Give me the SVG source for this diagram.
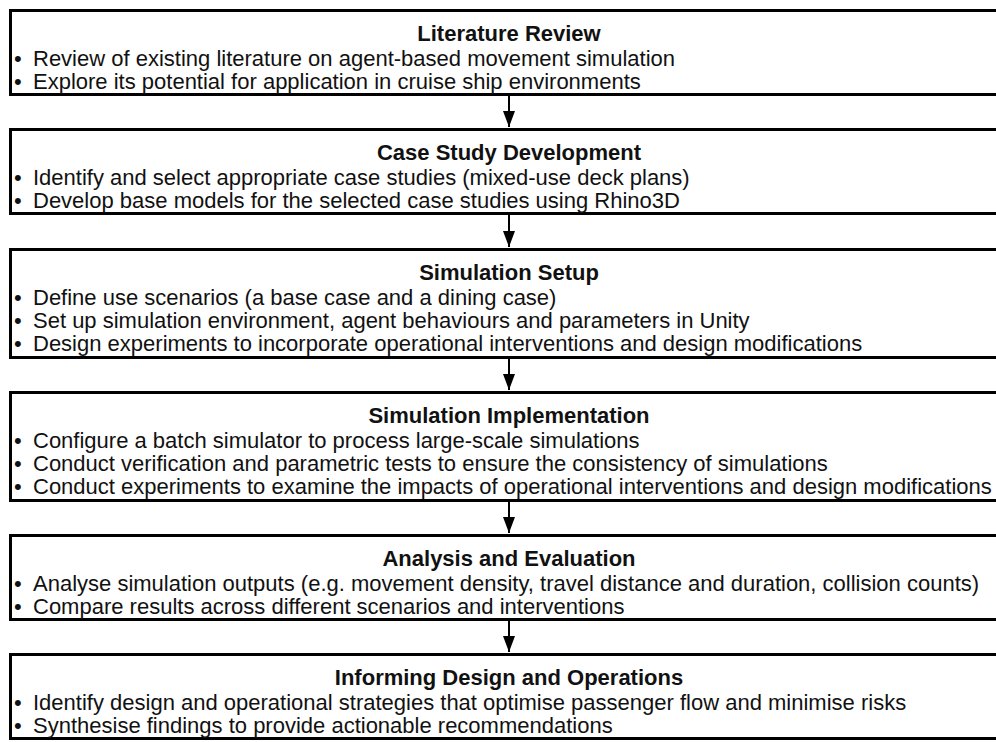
<svg xmlns="http://www.w3.org/2000/svg" width="996" height="742" viewBox="0 0 996 742">
  <style>
    .box { fill: #ffffff; stroke: #000000; stroke-width: 3; }
    .title { font-family: "Liberation Sans", Arial, Helvetica, sans-serif; font-size: 22px; font-weight: bold; fill: #111111; text-anchor: middle; }
    .item { font-family: "Liberation Sans", Arial, Helvetica, sans-serif; font-size: 22px; fill: #111111; }
    .link { stroke: #000000; stroke-width: 2; fill: none; }
  </style>
  <defs>
    <marker id="arrow" markerWidth="8" markerHeight="6" refX="8" refY="3" orient="auto" markerUnits="strokeWidth">
      <path d="M0,0 L8,3 L0,6 Z" fill="#000000"/>
    </marker>
  </defs>

  <rect width="996" height="742" fill="#ffffff"/>

  <!-- connectors between stages -->
  <g id="connectors">
    <line class="link" x1="509" y1="96" x2="509" y2="127" marker-end="url(#arrow)"/>
    <line class="link" x1="509" y1="215" x2="509" y2="247" marker-end="url(#arrow)"/>
    <line class="link" x1="509" y1="359" x2="509" y2="390" marker-end="url(#arrow)"/>
    <line class="link" x1="509" y1="502" x2="509" y2="533" marker-end="url(#arrow)"/>
    <line class="link" x1="509" y1="621" x2="509" y2="652" marker-end="url(#arrow)"/>
  </g>

  <g id="literature-review">
    <rect class="box" x="10.5" y="10.5" width="1000" height="84"/>
    <text class="title" x="509" y="41">Literature Review</text>
    <text class="item" x="14" y="66">•<tspan x="33">Review of existing literature on agent-based movement simulation</tspan></text>
    <text class="item" x="14" y="89">•<tspan x="33">Explore its potential for application in cruise ship environments</tspan></text>
  </g>

  <g id="case-study-development">
    <rect class="box" x="10.5" y="129.5" width="1000" height="84"/>
    <text class="title" x="509" y="160">Case Study Development</text>
    <text class="item" x="14" y="185">•<tspan x="33">Identify and select appropriate case studies (mixed-use deck plans)</tspan></text>
    <text class="item" x="14" y="208">•<tspan x="33">Develop base models for the selected case studies using Rhino3D</tspan></text>
  </g>

  <g id="simulation-setup">
    <rect class="box" x="10.5" y="249.5" width="1000" height="108"/>
    <text class="title" x="509" y="280">Simulation Setup</text>
    <text class="item" x="14" y="305">•<tspan x="33">Define use scenarios (a base case and a dining case)</tspan></text>
    <text class="item" x="14" y="328">•<tspan x="33">Set up simulation environment, agent behaviours and parameters in Unity</tspan></text>
    <text class="item" x="14" y="351">•<tspan x="33">Design experiments to incorporate operational interventions and design modifications</tspan></text>
  </g>

  <g id="simulation-implementation">
    <rect class="box" x="10.5" y="392.5" width="1000" height="108"/>
    <text class="title" x="509" y="423">Simulation Implementation</text>
    <text class="item" x="14" y="448">•<tspan x="33">Configure a batch simulator to process large-scale simulations</tspan></text>
    <text class="item" x="14" y="471">•<tspan x="33">Conduct verification and parametric tests to ensure the consistency of simulations</tspan></text>
    <text class="item" x="14" y="494">•<tspan x="33">Conduct experiments to examine the impacts of operational interventions and design modifications</tspan></text>
  </g>

  <g id="analysis-evaluation">
    <rect class="box" x="10.5" y="535.5" width="1000" height="84"/>
    <text class="title" x="509" y="566">Analysis and Evaluation</text>
    <text class="item" x="14" y="591">•<tspan x="33">Analyse simulation outputs (e.g. movement density, travel distance and duration, collision counts)</tspan></text>
    <text class="item" x="14" y="614">•<tspan x="33">Compare results across different scenarios and interventions</tspan></text>
  </g>

  <g id="informing-design-operations">
    <rect class="box" x="10.5" y="654.5" width="1000" height="84"/>
    <text class="title" x="509" y="685">Informing Design and Operations</text>
    <text class="item" x="14" y="710">•<tspan x="33">Identify design and operational strategies that optimise passenger flow and minimise risks</tspan></text>
    <text class="item" x="14" y="733">•<tspan x="33">Synthesise findings to provide actionable recommendations</tspan></text>
  </g>
</svg>
